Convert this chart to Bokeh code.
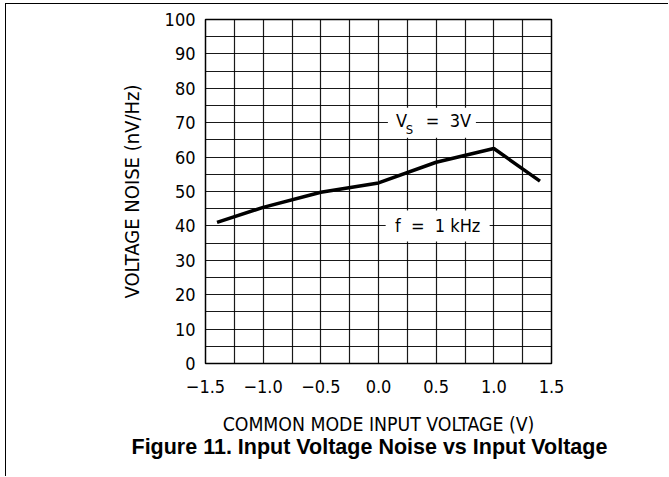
from bokeh.plotting import figure
from bokeh.models import Range1d, FixedTicker, Title
from bokeh.embed import file_html
from bokeh.resources import INLINE
from bokeh.core.properties import value

# ---- data ----
cm_voltage = [-1.4, -1.0, -0.5, 0.0, 0.5, 1.0, 1.4]
noise = [41.0, 45.4, 49.8, 52.5, 58.5, 62.5, 53.0]

x_major = [-1.5, -1.0, -0.5, 0.0, 0.5, 1.0, 1.5]
x_tick_labels = ["\u22121.5", "\u22121.0", "\u22120.5", "0.0", "0.5", "1.0", "1.5"]
x_minor = [-1.25, -0.75, -0.25, 0.25, 0.75, 1.25]
y_major = [0, 10, 20, 30, 40, 50, 60, 70, 80, 90, 100]
y_minor = [5, 15, 25, 35, 45, 55, 65, 75, 85, 95]

x_title = "COMMON MODE INPUT VOLTAGE (V)"
y_title = "VOLTAGE NOISE (nV/Hz)"
caption = "Figure 11. Input Voltage Noise vs Input Voltage"

FONT = "DejaVu Sans Condensed"

p = figure(width=663, height=473,
           x_range=Range1d(-1.5, 1.5), y_range=Range1d(0, 100),
           output_backend="svg", toolbar_location=None,
           min_border_left=199, min_border_right=118,
           min_border_top=15, min_border_bottom=114)
p.styles = {"margin-left": "5px", "margin-top": "3px",
            "border-top": "1px solid black", "border-left": "1px solid black"}

p.outline_line_color = "black"
p.outline_line_width = 1.5
p.background_fill_color = "white"
p.border_fill_color = "white"

p.xaxis.ticker = FixedTicker(ticks=x_major, minor_ticks=x_minor)
p.yaxis.ticker = FixedTicker(ticks=y_major, minor_ticks=y_minor)
p.xaxis.major_label_overrides = {t: l for t, l in zip(x_major, x_tick_labels)}

for ax in (p.xaxis, p.yaxis):
    ax.axis_line_color = None
    ax.major_tick_line_color = None
    ax.minor_tick_line_color = None
    ax.major_tick_out = 0
    ax.minor_tick_out = 0
    ax.major_label_text_font = FONT
    ax.major_label_text_font_size = "18px"
    ax.major_label_text_color = "black"
    ax.axis_label_text_font = FONT
    ax.axis_label_text_font_style = "normal"
    ax.axis_label_text_color = "black"
p.xaxis.major_label_standoff = 16
p.yaxis.major_label_standoff = 10

p.xaxis.axis_label = x_title
p.xaxis.axis_label_text_font_size = "19.3px"
p.xaxis.axis_label_standoff = 17
p.yaxis.axis_label = y_title
p.yaxis.axis_label_text_font_size = "20px"
p.yaxis.axis_label_standoff = 18

for g in (p.xgrid, p.ygrid):
    g.grid_line_color = "black"
    g.grid_line_width = 1.2
    g.grid_line_alpha = 0.9
    g.minor_grid_line_color = "black"
    g.minor_grid_line_width = 1.2
    g.minor_grid_line_alpha = 0.9

# annotation background boxes
p.rect(x=[0.463, 0.513], y=[70, 40], width=[88, 104], height=[30, 31],
       width_units="screen", height_units="screen",
       fill_color="white", line_color=None)

p.line(cm_voltage, noise, line_color="black", line_width=3.5)

# annotations
p.text(x=[0.152], y=[70.6], text=["V"], text_font=value(FONT), text_font_size="18px",
       text_align="left", text_baseline="middle", text_color="black")
p.text(x=[0.236], y=[68.0], text=["S"], text_font=value(FONT), text_font_size="13px",
       text_align="left", text_baseline="middle", text_color="black")
p.text(x=[0.41], y=[70.6], text=["=\u00a0\u00a03V"], text_font=value(FONT), text_font_size="18px",
       text_align="left", text_baseline="middle", text_color="black")
p.text(x=[0.513], y=[40.2], text=["f\u00a0\u00a0=\u00a0\u00a01 kHz"], text_font=value(FONT),
       text_font_size="18px", text_align="center", text_baseline="middle", text_color="black")

cap = Title(text=caption, align="left", offset=-74, text_font="Arial",
            text_font_style="bold", text_font_size="21.5px", text_color="black", standoff=-12)
p.add_layout(cap, "below")

open("out.html", "w").write(file_html(p, INLINE))
